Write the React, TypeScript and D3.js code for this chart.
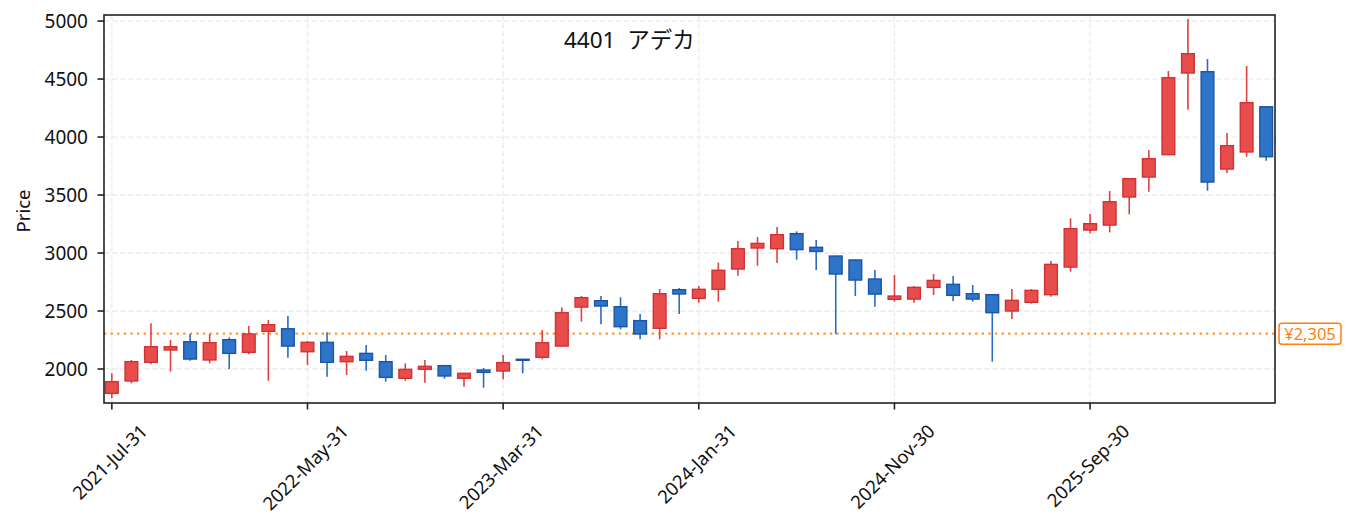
import React, { useEffect, useRef } from "react";
import * as d3 from "d3";

// monthly candles, month-end dates
const dates = [
  "2021-07-31", "2021-08-31", "2021-09-30", "2021-10-31", "2021-11-30", "2021-12-31",
  "2022-01-31", "2022-02-28", "2022-03-31", "2022-04-30", "2022-05-31", "2022-06-30",
  "2022-07-31", "2022-08-31", "2022-09-30", "2022-10-31", "2022-11-30", "2022-12-31",
  "2023-01-31", "2023-02-28", "2023-03-31", "2023-04-30", "2023-05-31", "2023-06-30",
  "2023-07-31", "2023-08-31", "2023-09-30", "2023-10-31", "2023-11-30", "2023-12-31",
  "2024-01-31", "2024-02-29", "2024-03-31", "2024-04-30", "2024-05-31", "2024-06-30",
  "2024-07-31", "2024-08-31", "2024-09-30", "2024-10-31", "2024-11-30", "2024-12-31",
  "2025-01-31", "2025-02-28", "2025-03-31", "2025-04-30", "2025-05-31", "2025-06-30",
  "2025-07-31", "2025-08-31", "2025-09-30", "2025-10-31", "2025-11-30", "2025-12-31",
  "2026-01-31", "2026-02-28", "2026-03-31", "2026-04-30", "2026-05-31", "2026-06-30",
];

const open = [
  1790, 1897, 2058, 2164, 2235, 2078, 2253, 2144, 2325, 2347,
  2149, 2230, 2063, 2135, 2063, 1920, 1997, 2029, 1920, 1991,
  1983, 2084, 2101, 2198, 2534, 2589, 2537, 2417, 2351, 2684,
  2609, 2687, 2862, 3043, 3037, 3167, 3049, 2974, 2940, 2776,
  2601, 2603, 2704, 2730, 2649, 2641, 2500, 2575, 2641, 2879,
  3198, 3241, 3483, 3655, 3848, 4552, 4563, 3724, 3871, 4261,
];
const high = [
  1963, 2078, 2394, 2250, 2302, 2302, 2273, 2371, 2422, 2457,
  2241, 2316, 2155, 2207, 2121, 2049, 2078, 2035, 1966, 2009,
  2121, 2086, 2336, 2532, 2629, 2629, 2618, 2474, 2690, 2698,
  2716, 2917, 3103, 3138, 3224, 3187, 3112, 2976, 2942, 2853,
  2810, 2716, 2819, 2802, 2724, 2643, 2690, 2690, 2931, 3299,
  3336, 3534, 3645, 3888, 4569, 5017, 4672, 4034, 4612, 4263,
];
const low = [
  1747, 1877, 2040, 1977, 2072, 2049, 2000, 2127, 1899, 2097,
  2034, 1934, 1948, 1985, 1891, 1899, 1882, 1917, 1847, 1839,
  1911, 1963, 2084, 2195, 2408, 2385, 2342, 2256, 2256, 2474,
  2572, 2580, 2804, 2890, 2914, 2943, 2853, 2300, 2629, 2537,
  2580, 2572, 2638, 2586, 2580, 2063, 2431, 2563, 2623, 2839,
  3170, 3178, 3334, 3528, 3845, 4235, 3537, 3690, 3830, 3796,
];
const close = [
  1891, 2063, 2192, 2192, 2086, 2227, 2135, 2302, 2382, 2198,
  2230, 2058, 2109, 2075, 1928, 1997, 2023, 1940, 1963, 1971,
  2055, 2075, 2227, 2485, 2615, 2543, 2365, 2302, 2649, 2647,
  2687, 2851, 3037, 3083, 3158, 3029, 3014, 2819, 2767, 2646,
  2629, 2704, 2764, 2635, 2603, 2486, 2592, 2678, 2902, 3210,
  3253, 3442, 3641, 3813, 4511, 4718, 3612, 3925, 4296, 3830,
];

const yTicks = [2000, 2500, 3000, 3500, 4000, 4500, 5000];
const xTickIdx = [0, 10, 20, 30, 40, 50];
const refPrice = 2305;
const title = "4401  アデカ";

const W = 1353;
const H = 531;
const FONT = "'Noto Sans', 'Noto Sans CJK JP', sans-serif";

const App: React.FC = () => {
  const svgRef = useRef<SVGSVGElement | null>(null);

  useEffect(() => {
    const svg = d3.select(svgRef.current);
    svg.selectAll("*").remove();

    const plot = { left: 104, right: 1275, top: 15, bottom: 403 };
    const n = dates.length;

    const x = d3.scaleLinear().domain([-0.4, n - 0.55]).range([plot.left, plot.right]);
    const y = d3.scaleLinear().domain([1707, 5052]).range([plot.bottom, plot.top]);
    const step = x(1) - x(0);
    const bodyW = step * 0.65;
    const parse = d3.timeParse("%Y-%m-%d");
    const fmt = d3.timeFormat("%Y-%b-%d");

    svg.append("rect").attr("width", W).attr("height", H).attr("fill", "#fff");

    // grid
    const grid = svg.append("g").attr("stroke", "#ebebeb").attr("stroke-width", 1.3).attr("stroke-dasharray", "5.5 2.5");
    yTicks.forEach((t) => {
      grid.append("line").attr("x1", plot.left).attr("x2", plot.right).attr("y1", y(t)).attr("y2", y(t));
    });
    xTickIdx.forEach((i) => {
      grid.append("line").attr("x1", x(i)).attr("x2", x(i)).attr("y1", plot.top).attr("y2", plot.bottom);
    });

    // reference line
    svg
      .append("line")
      .attr("x1", plot.left)
      .attr("x2", plot.right)
      .attr("y1", y(refPrice))
      .attr("y2", y(refPrice))
      .attr("stroke", "#ff7f0e")
      .attr("stroke-opacity", 0.85)
      .attr("stroke-width", 2.2)
      .attr("stroke-dasharray", "2.2 4.4");

    svg
      .append("clipPath")
      .attr("id", "plotclip")
      .append("rect")
      .attr("x", plot.left)
      .attr("y", plot.top)
      .attr("width", plot.right - plot.left)
      .attr("height", plot.bottom - plot.top);

    const candles = svg.append("g").attr("clip-path", "url(#plotclip)");
    d3.range(n).forEach((i) => {
      const up = close[i] >= open[i];
      const wick = up ? "#e0403f" : "#2a6cc2";
      const fill = up ? "#e84d4b" : "#2e74c8";
      const edge = up ? "#cf3234" : "#1a55aa";
      const cx = x(i);
      candles
        .append("line")
        .attr("x1", cx)
        .attr("x2", cx)
        .attr("y1", y(high[i]))
        .attr("y2", y(low[i]))
        .attr("stroke", wick)
        .attr("stroke-width", 1.6);
      const top = y(Math.max(open[i], close[i]));
      const bot = y(Math.min(open[i], close[i]));
      candles
        .append("rect")
        .attr("x", cx - bodyW / 2)
        .attr("y", top)
        .attr("width", bodyW)
        .attr("height", Math.max(bot - top, 1))
        .attr("fill", fill)
        .attr("stroke", edge)
        .attr("stroke-width", 1.4);
    });

    // frame
    svg
      .append("rect")
      .attr("x", plot.left)
      .attr("y", plot.top)
      .attr("width", plot.right - plot.left)
      .attr("height", plot.bottom - plot.top)
      .attr("fill", "none")
      .attr("stroke", "#222")
      .attr("stroke-width", 1.6);

    // y axis
    const yAxis = svg.append("g").attr("font-family", FONT).attr("font-size", 19).attr("fill", "#111");
    yTicks.forEach((t) => {
      yAxis.append("line").attr("x1", plot.left - 6.5).attr("x2", plot.left).attr("y1", y(t)).attr("y2", y(t)).attr("stroke", "#222").attr("stroke-width", 1.6);
      yAxis
        .append("text")
        .attr("x", plot.left - 16)
        .attr("y", y(t))
        .attr("text-anchor", "end")
        .attr("dominant-baseline", "central")
        .text(String(t));
    });
    svg
      .append("text")
      .attr("transform", `translate(30,${(plot.top + plot.bottom) / 2 + 2}) rotate(-90)`)
      .attr("text-anchor", "middle")
      .attr("font-family", FONT)
      .attr("font-size", 18.5)
      .attr("fill", "#111")
      .text("Price");

    // x axis
    const xAxis = svg.append("g").attr("font-family", FONT).attr("font-size", 18.5).attr("fill", "#111");
    xTickIdx.forEach((i) => {
      const tx = x(i);
      xAxis.append("line").attr("x1", tx).attr("x2", tx).attr("y1", plot.bottom).attr("y2", plot.bottom + 6.5).attr("stroke", "#222").attr("stroke-width", 1.6);
      const label = xAxis.append("text").attr("text-anchor", "end").text(fmt(parse(dates[i]) as Date));
      const L = (label.node() as SVGTextElement).getComputedTextLength();
      const capH = 13.3;
      const px = tx + 0.354 * (L + capH) - 2;
      const py = 423 + 0.707 * capH;
      label.attr("transform", `translate(${px},${py}) rotate(-45)`);
    });

    // title
    svg
      .append("text")
      .attr("x", 564)
      .attr("y", 48)
      .attr("font-family", FONT)
      .attr("font-size", 22.5)
      .attr("fill", "#111")
      .style("white-space", "pre")
      .text(title);

    // reference price tag
    const ty = y(refPrice);
    svg
      .append("rect")
      .attr("x", 1279)
      .attr("y", ty - 10.5)
      .attr("width", 62)
      .attr("height", 21)
      .attr("rx", 3)
      .attr("fill", "#fff")
      .attr("stroke", "#ff7f0e")
      .attr("stroke-width", 1.5);
    svg
      .append("text")
      .attr("x", 1310)
      .attr("y", ty)
      .attr("text-anchor", "middle")
      .attr("dominant-baseline", "central")
      .attr("font-family", FONT)
      .attr("font-size", 16.5)
      .attr("fill", "#ff7f0e")
      .text("¥" + d3.format(",")(refPrice));
  }, []);

  return <svg ref={svgRef} width={W} height={H} style={{ position: "absolute", left: 0, top: 0 }}></svg>;
};

export default App;
